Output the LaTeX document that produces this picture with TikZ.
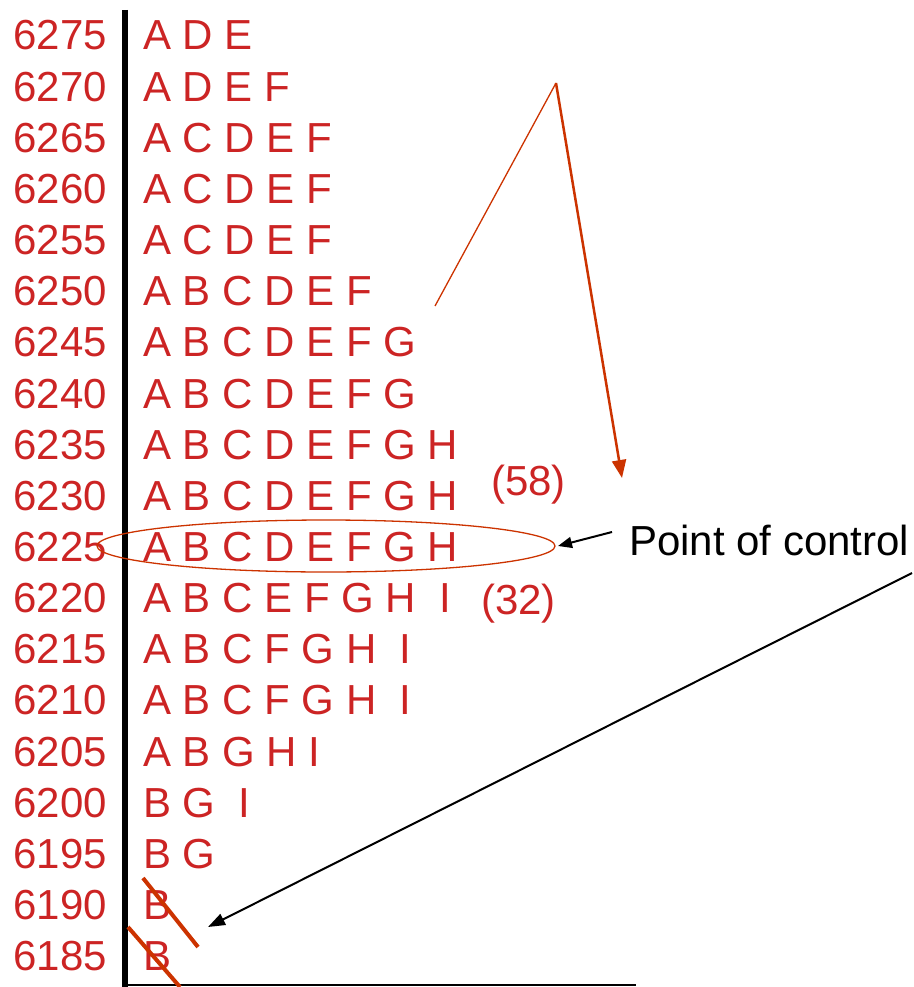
\documentclass[tikz,border=0pt]{standalone}
\usepackage{fontspec}
\setmainfont{Liberation Sans}
\usetikzlibrary{arrows.meta}
\definecolor{rowred}{RGB}{204,36,36}
\definecolor{markred}{RGB}{204,51,0}
\begin{document}
\begin{tikzpicture}[x=1pt,y=-1pt,
  big/.style={font=\fontsize{42}{50}\selectfont},
  year/.style={big,text=rowred,anchor=base east,inner sep=0pt},
  taxa/.style={big,text=rowred,anchor=base west,inner sep=0pt},
  strikeout/.style={draw=markred,line width=4pt},
  pointer/.style={draw=black,line width=2pt,-{Triangle[length=17pt,width=12pt]}}]
\useasboundingbox (0,0) rectangle (913,987);

% timeline axis
\draw[line width=5.5pt] (125,10) -- (125,987);
\draw[line width=2pt] (124,985) -- (636,985);

% rows: year on the left, taxa present on the right
\foreach \yr/\txt [count=\i from 0] in {
  6275/{A D E},
  6270/{A D E F},
  6265/{A C D E F},
  6260/{A C D E F},
  6255/{A C D E F},
  6250/{A B C D E F},
  6245/{A B C D E F G},
  6240/{A B C D E F G},
  6235/{A B C D E F G H},
  6230/{A B C D E F G H},
  6225/{A B C D E F G H},
  6220/{A B C E F G H\ \ I},
  6215/{A B C F G H\ \ I},
  6210/{A B C F G H\ \ I},
  6205/{A B G H I},
  6200/{B G\ \ I},
  6195/{B G},
  6190/{B},
  6185/{B}}
{
  \node[year] (y\yr) at (107,{50+51.15*\i}) {\yr};
  \node[taxa] (t\yr) at (143,{50+51.15*\i}) {\txt};
}

\node[taxa] (n58) at (491,495) {(58)};
\node[taxa] (n32) at (481,614) {(32)};

% point of control
\draw[markred,line width=1.3pt] (326,546) ellipse [x radius=229pt, y radius=26pt];
\coordinate (ellE) at (558,546);
\node[big,anchor=base west,inner sep=0pt] (poc) at (629,555) {Point of control};
\draw[pointer,-{Triangle[length=14pt,width=11pt]}] (612,532) -- (ellE);

% red bracket pointing down to the control row
\coordinate (brA) at (435,306);
\coordinate (brApex) at (556,83);
\coordinate (brTip) at (622,478);
\draw[markred,line width=1.3pt] (brA) -- (brApex);
\draw[markred,line width=2.5pt,-{Triangle[length=18pt,width=14pt]}] (brApex) -- (brTip);

% struck-out rows
\draw[strikeout] (143,878) -- (198,947);
\draw[strikeout] (128,927) -- (180,987);

% arrow from the label down to the struck-out rows
\coordinate (pocStart) at (912,573);
\coordinate (strikeEnd) at (208,927);
\draw[pointer] (pocStart) -- (strikeEnd);
\end{tikzpicture}
\end{document}
